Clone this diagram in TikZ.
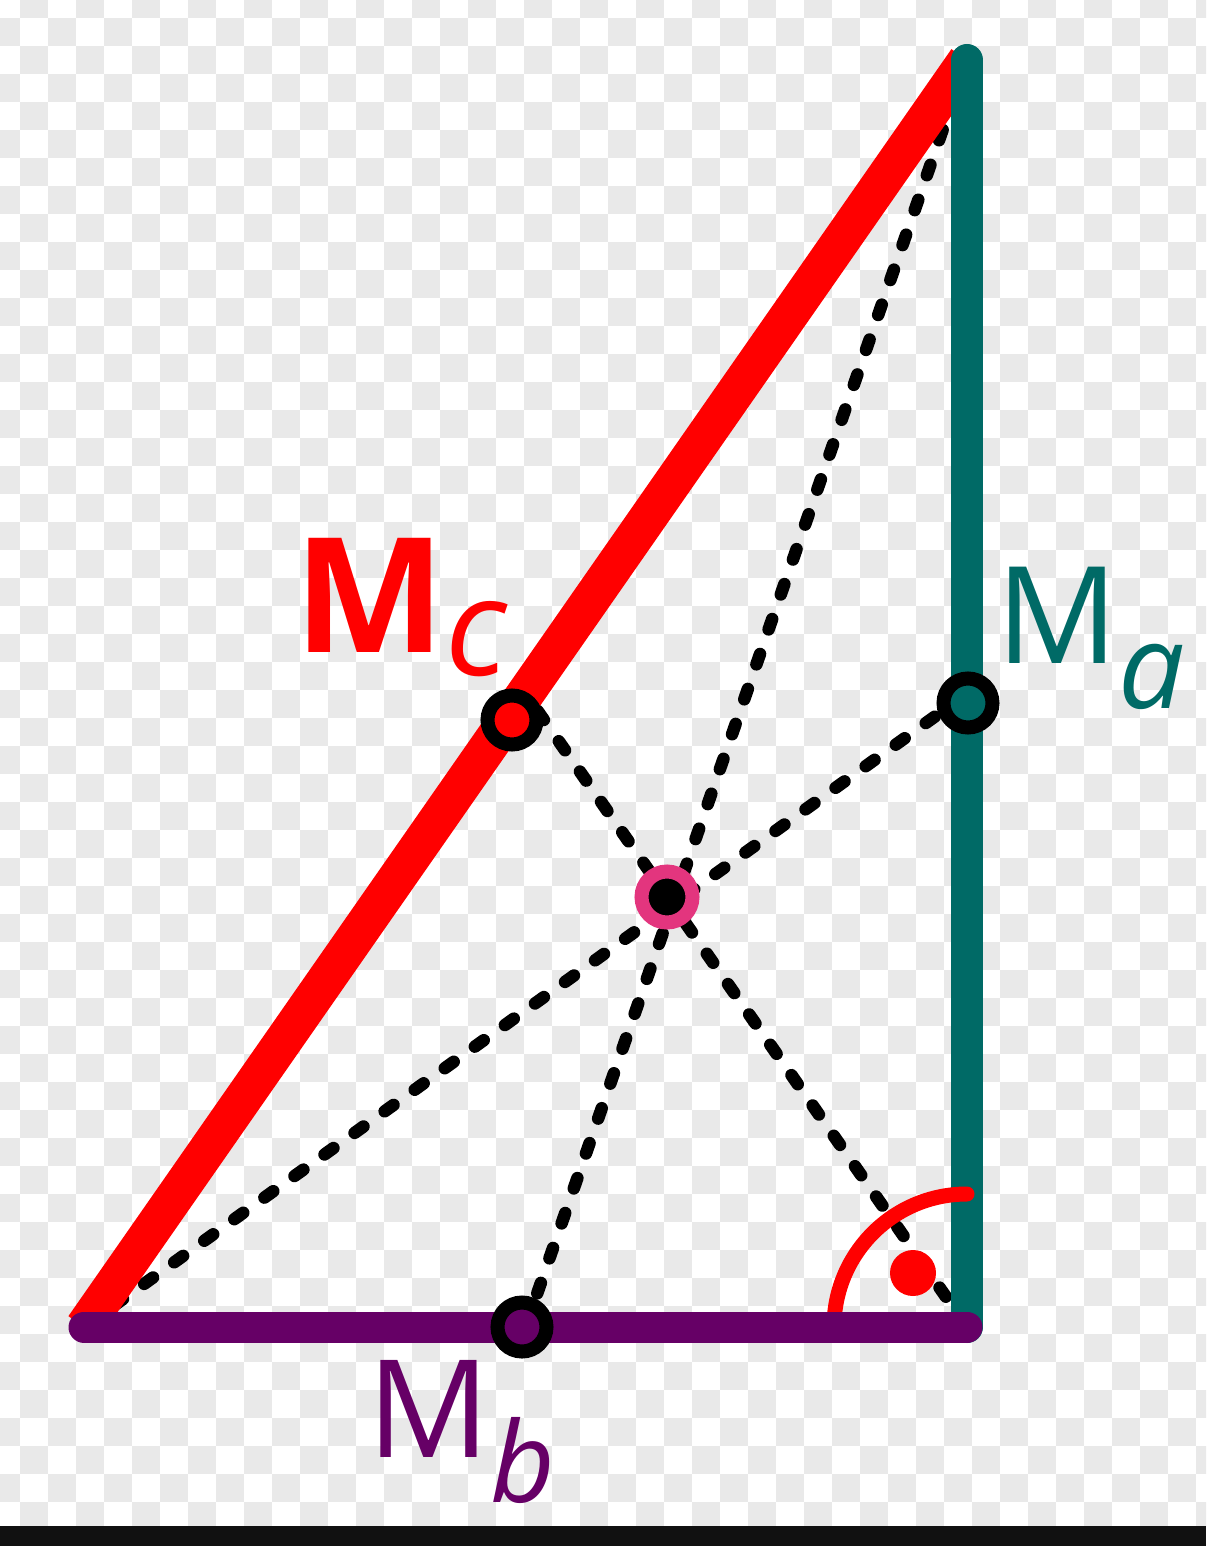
\documentclass[tikz,border=0pt]{standalone}
\usepackage{fontspec}
\setmainfont{Open Sans}
\usetikzlibrary{calc}
\definecolor{redc}{HTML}{FF0000}
\definecolor{tealc}{HTML}{006A66}
\definecolor{purplec}{HTML}{660066}
\definecolor{pinkc}{HTML}{E3357E}
\definecolor{checkgray}{HTML}{E9E9E9}
\definecolor{barblack}{HTML}{111111}
\begin{document}
\begin{tikzpicture}[x=0.5pt,y=-0.5pt,
  median/.style={draw=black, line width=6.25pt, line cap=round, dash pattern=on 5.5pt off 13pt},
  side/.style={line width=16pt, line cap=round},
  ring/.style={circle, draw=black, line width=7pt, minimum size=24.5pt, inner sep=0pt},
  centroid/.style={circle, draw=pinkc, fill=black, line width=7pt, minimum size=25.5pt, inner sep=0pt},
  anglearc/.style={draw=redc, line width=7.5pt, line cap=round},
  lbl/.style={inner sep=0pt, anchor=base west}]
\useasboundingbox (0,0) rectangle (1206,1546);
\fill[white] (0,0) rectangle (1206,1546);
\begin{scope}
  \clip (0,0) rectangle (1206,1526);
  \foreach \j in {0,...,54}{
    \foreach \i in {0,...,43}{
      \ifodd\numexpr\i+\j\relax
        \fill[checkgray] ({-8+28*\i},{-10+28*\j}) rectangle ++(28,28);
      \fi
    }
  }
\end{scope}
\fill[barblack] (0,1526) rectangle (1206,1546);
% vertices
\coordinate (A) at (84,1327);
\coordinate (B) at (967,1327);
\coordinate (C) at (967,60);
\coordinate (mA) at ($(B)!0.5!(C)$);
\coordinate (mB) at ($(A)!0.5!(B)$);
\coordinate (mC) at ($(A)!0.5!(C)$);
% medians
\draw[median] (A) -- (mA);
\draw[median] (B) -- (mC);
\draw[median] (C) -- (mB);
% sides
\draw[side, draw=redc, line width=19pt, line cap=butt] (A) -- (C);
\draw[side, draw=tealc, line width=16pt] (C) -- (B);
\draw[anglearc] ($(B)+(-133,0)$) arc[start angle=180, end angle=270, radius=133];
\draw[side, draw=purplec, line width=15.5pt] (A) -- (B);
\node[circle, fill=redc, minimum size=23pt, inner sep=0pt] (rdot) at (913,1273) {};
% midpoint rings
\node[ring, fill=redc] (ringc) at (512,720) {};
\node[ring, fill=tealc] (ringa) at (968,703) {};
\node[ring, fill=purplec] (ringb) at (522,1327) {};
\node[centroid] (g) at (667,897) {};
% labels
\node[lbl, text=redc] (lc) at (294,652) {\fontsize{80pt}{80pt}\selectfont\bfseries M\raisebox{-11.5pt}{\fontsize{68pt}{68pt}\selectfont\mdseries\itshape c}};
\node[lbl, text=tealc] (la) at (996,663) {\fontsize{67.5pt}{68pt}\selectfont M\raisebox{-22.5pt}{\fontsize{59pt}{60pt}\selectfont\itshape a}};
\node[lbl, text=purplec] (lb) at (367,1457) {\fontsize{68pt}{68pt}\selectfont M\raisebox{-22.5pt}{\fontsize{56pt}{56pt}\selectfont\itshape b}};
\end{tikzpicture}
\end{document}
